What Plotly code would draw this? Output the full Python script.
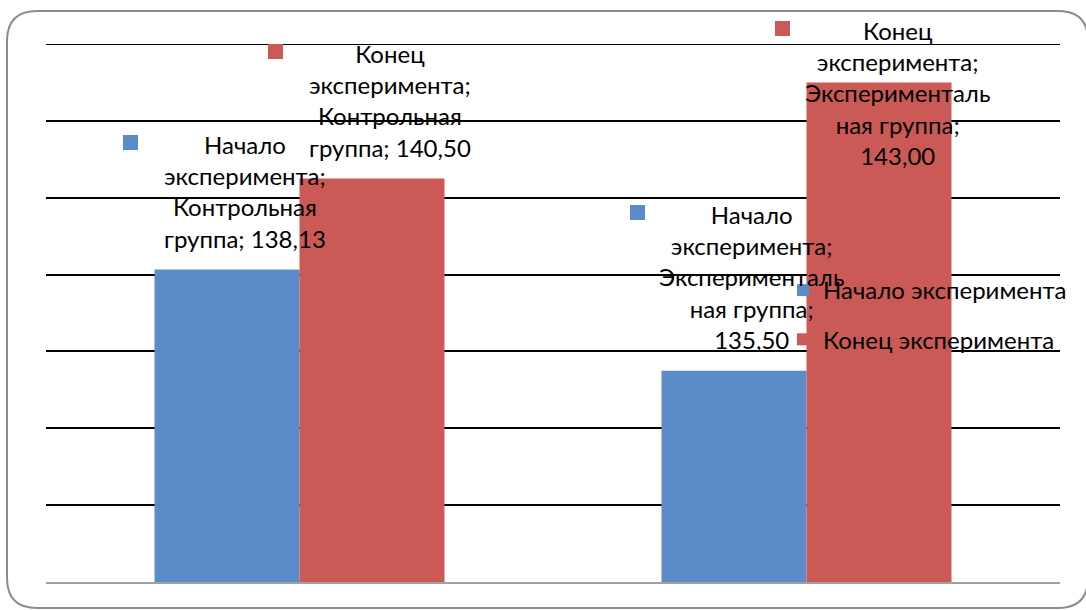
import plotly.graph_objects as go

# ---- data ----
categories = ["Контрольная группа", "Экспериментальная группа"]
series_names = ["Начало эксперимента", "Конец эксперимента"]
start_values = [138.13, 135.50]
end_values = [140.50, 143.00]
series_values = [start_values, end_values]
series_colors = ["#5B8BC8", "#CB5A56"]
y_min, y_max, y_step = 130, 144, 2

# ---- layout constants ----
W, H = 1086, 610
ML, MR, MT, MB = 46, 26, 44, 28
BARGAP = 0.428
FONT = "Lato"
FS = 24
LINE_H = FS * 1.3
LABEL_GAP = 17
LABEL_TOP_LIMIT = 14
TEXT_DX = 18
MARK = 15

plot_w = W - ML - MR
plot_h = H - MT - MB
ppu = plot_h / (y_max - y_min)
cat_w = plot_w / len(categories)
bar_w = cat_w * (1 - BARGAP) / len(series_names)


def wrap(text, width=14):
    lines, cur = [], ""
    for word in text.split(" "):
        while len(word) > width:
            if cur:
                lines.append(cur)
                cur = ""
            lines.append(word[:width])
            word = word[width:]
        if not cur:
            cur = word
        elif len(cur) + 1 + len(word) <= width:
            cur += " " + word
        else:
            lines.append(cur)
            cur = word
    if cur:
        lines.append(cur)
    return lines


def px(x, y):
    return (x - ML) / plot_w, (H - MB - y) / plot_h


fig = go.Figure()
for i, (name, vals, col) in enumerate(zip(series_names, series_values, series_colors)):
    fig.add_trace(go.Bar(
        name=name, x=categories, y=vals, legendgroup=name,
        marker=dict(color=col, line=dict(width=0)),
        hoverinfo="skip",
    ))

annotations = []
shapes = []

# top gridline (plotly drops grid lines at the range edge)
shapes.append(dict(type="line", xref="paper", yref="y", x0=0, x1=1, y0=y_max, y1=y_max,
                   line=dict(color="#000000", width=2), layer="below"))

for i, (name, vals, col) in enumerate(zip(series_names, series_values, series_colors)):
    off = (i - (len(series_names) - 1) / 2) * bar_w
    for ci, (cat, v) in enumerate(zip(categories, vals)):
        label = f"{name}; {cat}; {v:.2f}".replace(".", ",")
        lines = wrap(label)
        block_h = len(lines) * LINE_H
        bar_top = MT + (y_max - v) * ppu
        block_top = bar_top - LABEL_GAP - block_h
        if block_top < LABEL_TOP_LIMIT:
            block_top = LABEL_TOP_LIMIT
        up = bar_top - block_top
        annotations.append(dict(
            x=cat, y=v, xref="x", yref="y", xanchor="center", yanchor="top",
            xshift=off + TEXT_DX, yshift=up, showarrow=False, align="center",
            text="<br>".join(lines), font=dict(family=FONT, size=FS, color="#000000"),
        ))
        maxlen = max(len(l) for l in lines)
        mx0 = off + TEXT_DX - maxlen * 12 + 46
        my = up - LINE_H / 2 + 1
        # legend key of the data label
        annotations.append(dict(
            x=cat, y=v, xref="x", yref="y", xanchor="left", yanchor="middle",
            xshift=mx0, yshift=my, showarrow=False, text=" ",
            width=MARK, height=MARK, bgcolor=col, borderpad=0, borderwidth=0,
            font=dict(size=4),
        ))

# rounded outer border
bx0, by0, bx1, by1, r = 7, 11, 1088, 608, 30


def P(x, y):
    a, b = px(x, y)
    return f"{a:.5f},{b:.5f}"


path = (f"M{P(bx0 + r, by0)} L{P(bx1 - r, by0)} Q{P(bx1, by0)} {P(bx1, by0 + r)} "
        f"L{P(bx1, by1 - r)} Q{P(bx1, by1)} {P(bx1 - r, by1)} "
        f"L{P(bx0 + r, by1)} Q{P(bx0, by1)} {P(bx0, by1 - r)} "
        f"L{P(bx0, by0 + r)} Q{P(bx0, by0)} {P(bx0 + r, by0)} Z")
shapes.append(dict(type="path", xref="paper", yref="paper", path=path,
                   line=dict(color="#8C8C8C", width=2), layer="below"))

lx, ly = px(783, 268)
fig.update_layout(
    width=W, height=H,
    margin=dict(l=ML, r=MR, t=MT, b=MB, pad=0),
    paper_bgcolor="white", plot_bgcolor="white",
    barmode="group", bargap=BARGAP, bargroupgap=0,
    font=dict(family=FONT, size=FS, color="#000000"),
    xaxis=dict(showticklabels=False, showgrid=False, zeroline=False, ticks="",
               showline=True, linecolor="#A0A0A0", linewidth=2),
    yaxis=dict(range=[y_min, y_max], dtick=y_step, tick0=y_min, showticklabels=False,
               showgrid=True, gridcolor="#000000", gridwidth=2, zeroline=False, ticks=""),
    legend=dict(x=lx, y=ly, xanchor="left", yanchor="top", bgcolor="rgba(0,0,0,0)",
                font=dict(family=FONT, size=FS), traceorder="grouped", tracegroupgap=15),
    annotations=annotations, shapes=shapes,
    showlegend=True,
)

fig.write_html("out.html", config={"displayModeBar": False},
               post_script="document.body.style.margin='0';")
